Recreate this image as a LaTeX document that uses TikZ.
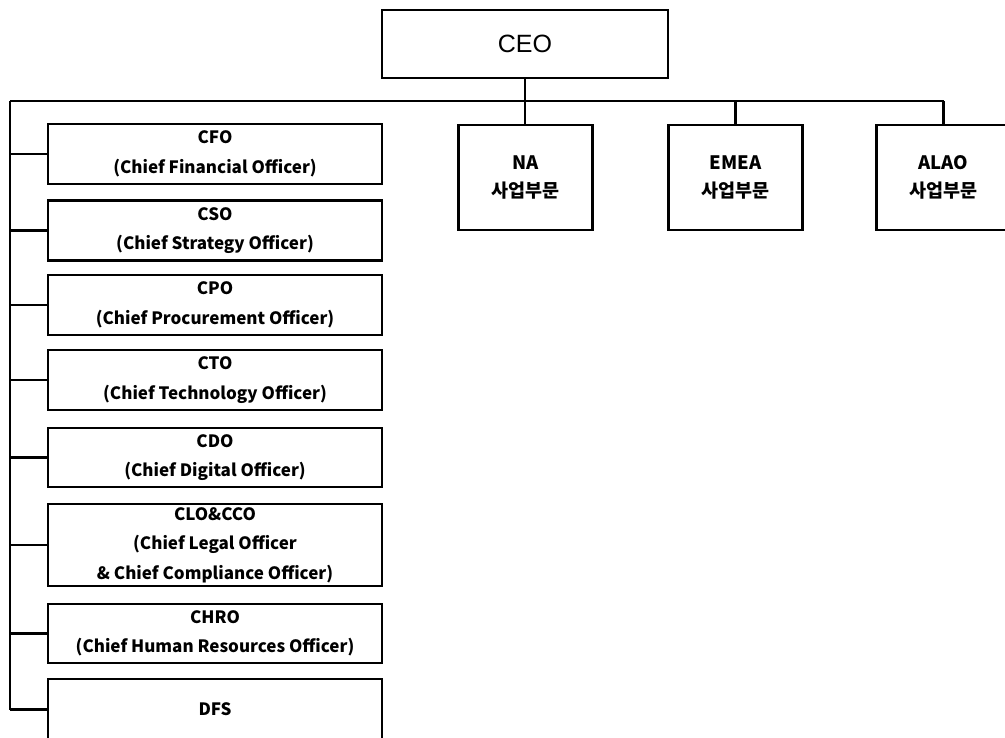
\documentclass[tikz,border=0pt]{standalone}
\usepackage{fontspec}
\setmainfont{Liberation Sans}
\newfontfamily\krfont{Noto Sans CJK KR}
\usetikzlibrary{positioning}

\tikzset{
	unit/.style={draw, line width=2.8pt, align=center, inner sep=0pt},
	officer/.style={unit, minimum width=334pt, minimum height=60pt,
		font=\krfont\bfseries\fontsize{17}{29.5}\selectfont},
	region/.style={unit, minimum width=134pt, minimum height=105pt,
		font=\krfont\bfseries\fontsize{18.5}{28}\selectfont},
	rail/.style={line width=1.5pt},
	link/.style={line width=2.8pt}
}

\begin{document}
\begin{tikzpicture}[x=1pt, y=-1pt]
	\useasboundingbox (0,0) rectangle (1005,738);
	\clip (0,0) rectangle (1005,738);

	\node[draw, line width=2.2pt, minimum width=286pt, minimum height=68pt,
		font=\fontsize{25}{28}\selectfont] (ceo) at (525,44) {CEO};

	% business divisions
	\node[region] (na) at (525.5,177.5) {NA\\사업부문};
	\node[region] (emea) at (735.5,177.5) {EMEA\\사업부문};
	\node[region] (alao) at (943.5,177.5) {ALAO\\사업부문};

	% chief officers
	\node[officer] (cfo) at (215,154) {CFO\\(Chief Financial Officer)};
	\node[officer] (cso) at (215,230.5) {CSO\\(Chief Strategy Officer)};
	\node[officer] (cpo) at (215,305) {CPO\\(Chief Procurement Officer)};
	\node[officer] (cto) at (215,380) {CTO\\(Chief Technology Officer)};
	\node[officer, minimum height=59pt] (cdo) at (215,457.5) {CDO\\(Chief Digital Officer)};
	\node[officer, minimum height=82pt] (clo) at (215,545) {CLO\&CCO\\(Chief Legal Officer\\\& Chief Compliance Officer)};
	\node[officer, minimum height=59pt] (chro) at (215,633.5) {CHRO\\(Chief Human Resources Officer)};
	\node[officer, minimum height=61pt] (dfs) at (215,709.5) {DFS};

	\coordinate (top) at (10,101);

	\draw[rail] (top) -- (top -| alao.north);
	\draw[link] (ceo.south) -- (ceo.south |- na.north);
	\foreach \d in {emea,alao}{
		\draw[link] (\d.north |- top) -- (\d.north);
	}

	\draw[link] (top) -- (top |- dfs.west);
	\foreach \o in {cfo,cso,cpo,cto,cdo,clo,chro,dfs}{
		\draw[link] (top |- \o.west) -- (\o.west);
	}
\end{tikzpicture}
\end{document}
